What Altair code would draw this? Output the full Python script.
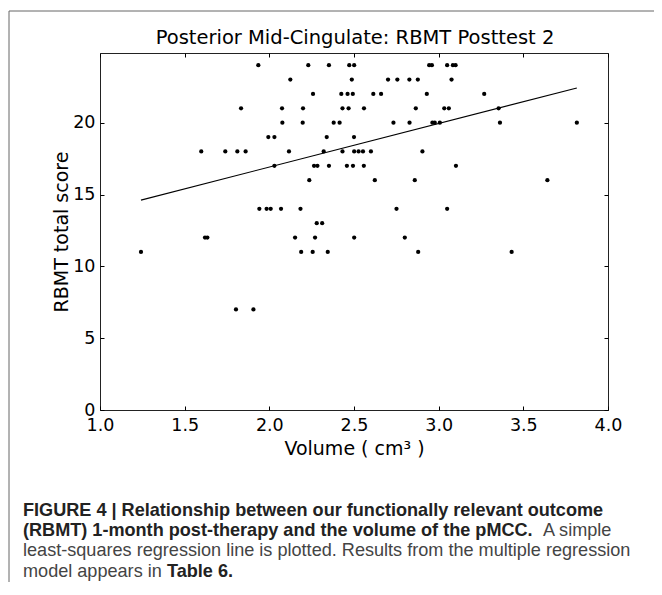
import altair as alt
import pandas as pd

# RBMT total score values and the pMCC volume (cm^3) of each patient
score = ([24] * 10 + [23] * 7 + [22] * 8 + [21] * 10 + [20] * 11 + [19] * 4 +
         [18] * 12 + [17] * 8 + [16] * 4 + [14] * 7 + [13] * 2 + [12] * 6 +
         [11] * 6 + [7] * 2)
volume = [
    1.935, 2.230, 2.352, 2.472, 2.501, 2.944, 2.960, 3.050, 3.084, 3.100,   # 24
    2.124, 2.487, 2.701, 2.756, 2.827, 2.877, 3.076,                        # 23
    2.258, 2.425, 2.462, 2.493, 2.614, 2.660, 2.930, 3.269,                 # 22
    1.833, 2.075, 2.199, 2.432, 2.468, 2.559, 2.865, 3.033, 3.060, 3.354,   # 21
    2.077, 2.197, 2.380, 2.415, 2.733, 2.828, 2.963, 2.977, 3.007, 3.362, 3.816,  # 20
    1.994, 2.030, 2.339, 2.500,                                             # 19
    1.598, 1.740, 1.811, 1.860, 2.116, 2.321, 2.432, 2.501, 2.527, 2.553, 2.600, 2.904,  # 18
    2.030, 2.264, 2.284, 2.352, 2.458, 2.494, 2.558, 3.102,                 # 17
    2.236, 2.623, 2.859, 3.642,                                             # 16
    1.941, 1.984, 2.008, 2.069, 2.184, 2.751, 3.050,                        # 14
    2.280, 2.312,                                                           # 13
    1.620, 1.634, 2.152, 2.270, 2.501, 2.800,                               # 12
    1.242, 2.188, 2.256, 2.345, 2.879, 3.431,                               # 11
    1.803, 1.906,                                                           # 7
]

# least-squares line end points as drawn
line_x = [1.242, 3.816]
line_y = [14.61, 22.42]

x_ticks = [1.0, 1.5, 2.0, 2.5, 3.0, 3.5, 4.0]
y_ticks = [0, 5, 10, 15, 20]
x_domain = [1.0, 4.0]
y_domain = [0, 24.85]

title_text = "Posterior Mid-Cingulate: RBMT Posttest 2"
x_title = "Volume ( cm\u00b3 )"
y_title = "RBMT total score"
caption = [
    "FIGURE 4 | Relationship between our functionally relevant outcome",
    "(RBMT) 1-month post-therapy and the volume of the pMCC.",
    "A simple",
    "least-squares regression line is plotted. Results from the multiple regression",
    "model appears in",
    "Table 6.",
]

pts = pd.DataFrame({"volume": volume, "score": score})
fit = pd.DataFrame({"volume": line_x, "score": line_y})

W, H = 508, 357
AX = "DejaVu Sans"

xs = alt.Scale(domain=x_domain, nice=False, zero=False)
ys = alt.Scale(domain=y_domain, nice=False, zero=False)

common = dict(offset=-4, tickSize=4, domain=False, grid=False, tickColor="black",
              tickWidth=1, labelFlush=False, labelOverlap=False)

points = alt.Chart(pts).mark_circle(size=18, color="black", opacity=1).encode(
    x=alt.X("volume:Q", scale=xs, axis=alt.Axis(
        orient="bottom", values=x_ticks, format=".1f", labelPadding=6,
        labelFont=AX, labelFontSize=17.5, labelColor="black",
        title=x_title, titleFont=AX, titleFontSize=19, titleFontWeight="normal",
        titleColor="black", titlePadding=6, **common)),
    y=alt.Y("score:Q", scale=ys, axis=alt.Axis(
        orient="left", values=y_ticks, format="d", labelPadding=5,
        labelFont=AX, labelFontSize=17.5, labelColor="black",
        title=y_title, titleFont=AX, titleFontSize=19, titleFontWeight="normal",
        titleColor="black", titlePadding=1, **common)),
)

line = alt.Chart(fit).mark_line(color="black", strokeWidth=1.1).encode(
    x=alt.X("volume:Q", scale=xs, axis=alt.Axis(
        orient="top", values=x_ticks, labels=False, title="", **common)),
    y=alt.Y("score:Q", scale=ys, axis=alt.Axis(
        orient="right", values=y_ticks, labels=False, title="", **common)),
)

one = pd.DataFrame({"k": [0]})


def txt(s, x, y, size, weight="normal", font=AX, color="black", align="left"):
    return alt.Chart(pd.DataFrame({"label": [s]})).mark_text(
        font=font, fontSize=size, fontWeight=weight, color=color, align=align,
        baseline="alphabetic").encode(x=alt.value(x), y=alt.value(y), text="label:N")


CAP = "Liberation Sans"
BS, RS = 18.1, 18.1
layers = [
    txt(title_text, 255, -9, 19.5, align="center"),
    txt(caption[0], -77, 462.7, BS, "bold", CAP, "#222"),
    txt(caption[1], -77, 482.7, BS, "bold", CAP, "#222"),
    txt(caption[2], 443, 482.7, RS, "normal", CAP, "#444"),
    txt(caption[3], -77, 503, RS, "normal", CAP, "#444"),
    txt(caption[4], -77, 523.5, RS, "normal", CAP, "#444"),
    txt(caption[5], 67, 523.5, BS, "bold", CAP, "#222"),
    alt.Chart(one).mark_rule(color="#666", strokeWidth=1).encode(
        x=alt.value(-91), y=alt.value(-42), y2=alt.value(600)),
    alt.Chart(one).mark_rule(color="#666", strokeWidth=1).encode(
        x=alt.value(-91), x2=alt.value(600), y=alt.value(-42)),
]

chart = alt.layer(points, line, *layers).resolve_axis(
    x="independent", y="independent"
).properties(
    width=W, height=H,
    autosize=alt.AutoSizeParams(type="none"),
    padding={"left": 92, "top": 45, "right": 46, "bottom": 172},
    background="white",
).configure_view(stroke="#222", strokeWidth=1)

chart.save("out.html", embed_options={"renderer": "svg", "actions": False})
